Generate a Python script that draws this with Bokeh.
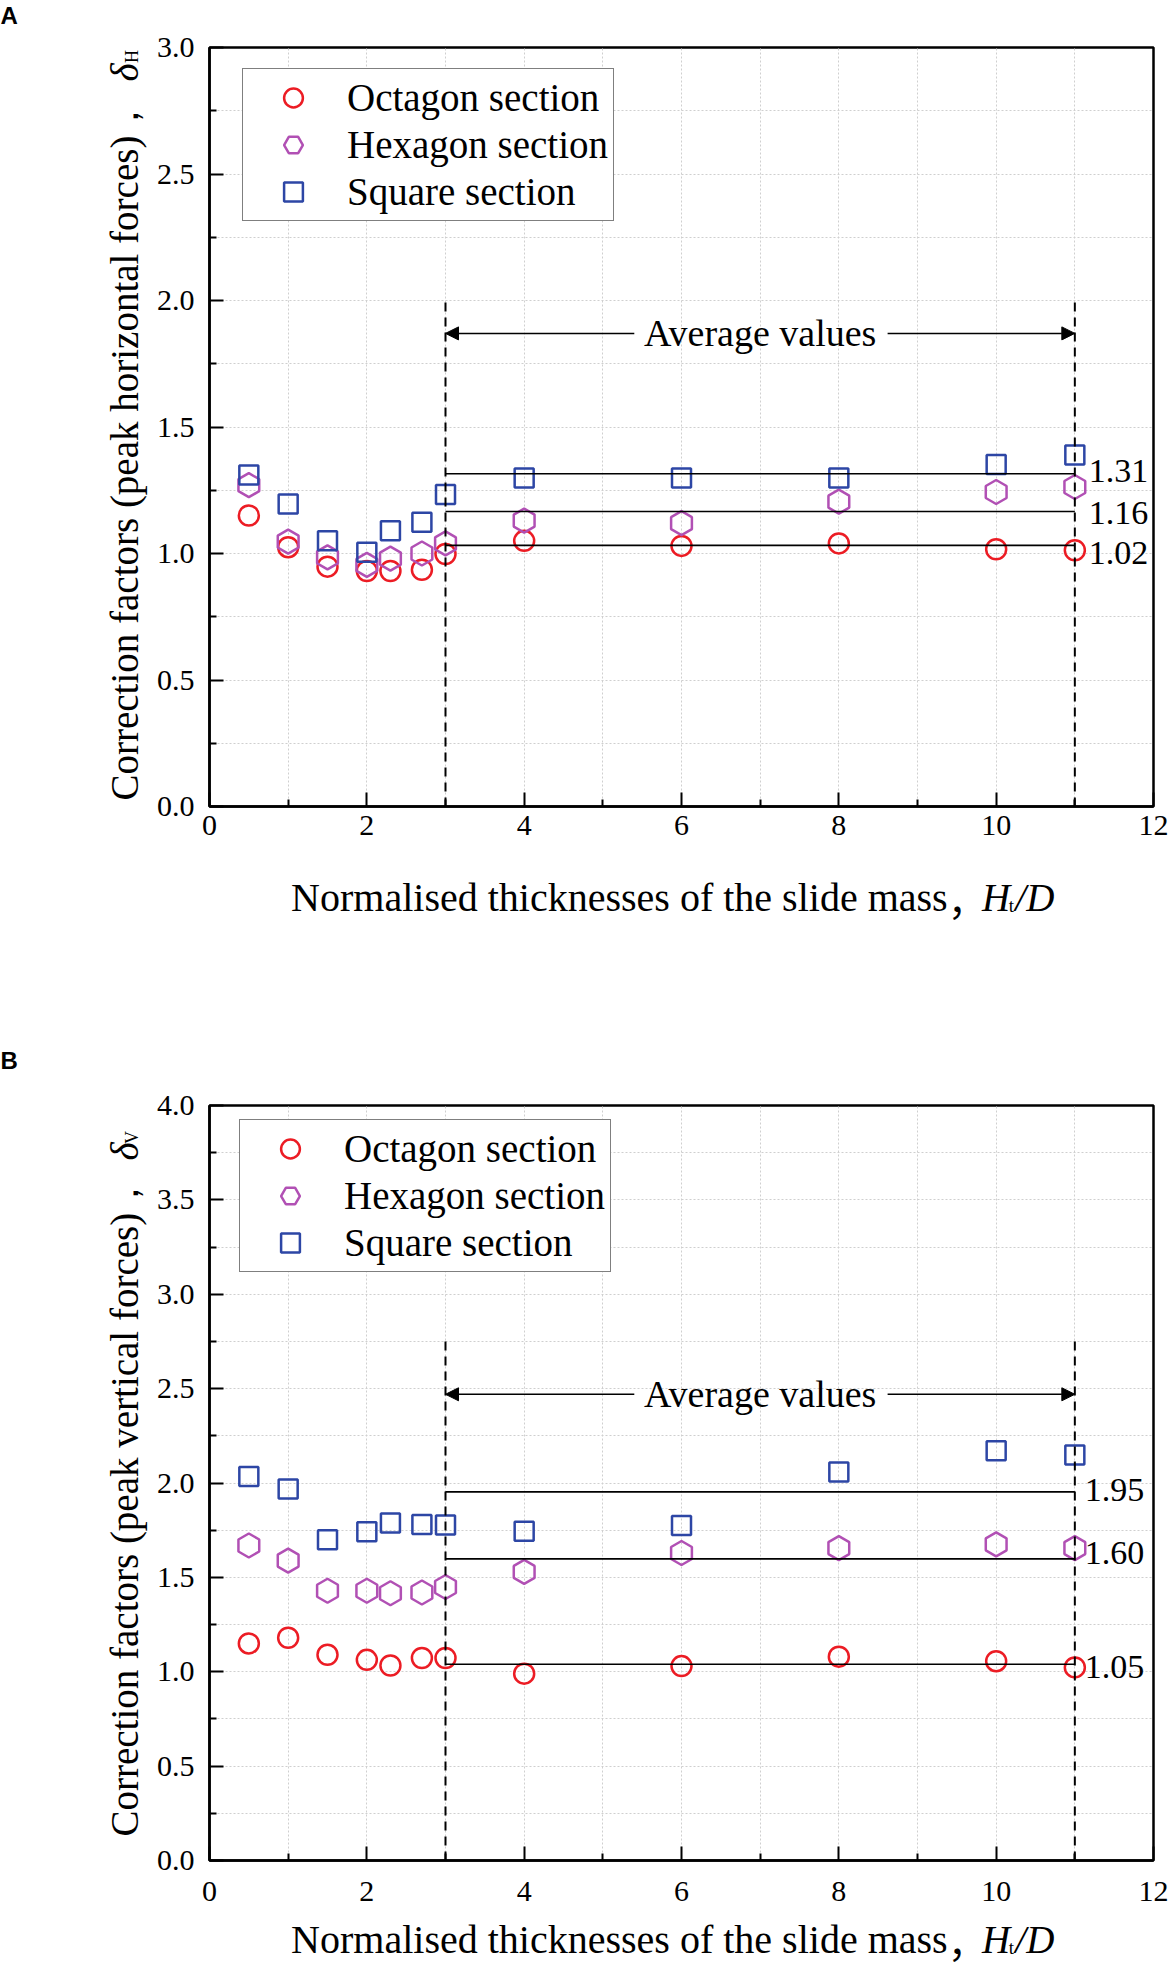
import numpy as np
from bokeh.plotting import figure
from bokeh.layouts import column, row
from bokeh.models import FixedTicker, NumeralTickFormatter, Label, Arrow, NormalHead, Range1d
from bokeh.embed import file_html
from bokeh.resources import INLINE

# ---------------- data ----------------
x_vals = [0.5, 1, 1.5, 2, 2.3, 2.7, 3, 4, 6, 8, 10, 11]

oct_h = [1.15, 1.025, 0.948, 0.931, 0.931, 0.936, 0.998, 1.05, 1.03, 1.04, 1.017, 1.013]
hex_h = [1.27, 1.047, 0.985, 0.955, 0.98, 1.0, 1.04, 1.13, 1.12, 1.205, 1.243, 1.263]
sq_h = [1.31, 1.196, 1.05, 1.005, 1.09, 1.124, 1.233, 1.298, 1.298, 1.298, 1.352, 1.389]

oct_v = [1.15, 1.18, 1.09, 1.063, 1.033, 1.073, 1.073, 0.99, 1.03, 1.08, 1.056, 1.023]
hex_v = [1.669, 1.589, 1.429, 1.429, 1.416, 1.42, 1.449, 1.529, 1.629, 1.655, 1.675, 1.655]
sq_v = [2.034, 1.968, 1.699, 1.742, 1.788, 1.78, 1.778, 1.745, 1.775, 2.058, 2.171, 2.148]

avg_lines_h = [1.315, 1.166, 1.032]
avg_labels_h = ["1.31", "1.16", "1.02"]
avg_lines_v = [1.953, 1.598, 1.04]
avg_labels_v = ["1.95", "1.60", "1.05"]
avg_start, avg_end = 3, 11

series_names = ["Octagon section", "Hexagon section", "Square section"]
colors = ["#ec1c24", "#b150b4", "#2d46a5"]

x_major = [0, 2, 4, 6, 8, 10, 12]
x_minor = [1, 3, 5, 7, 9, 11]

x_title = "Normalised thicknesses of the slide mass"
y_title_h = "Correction factors (peak horizontal forces)\uff0c"
y_title_v = "Correction factors (peak vertical forces)\uff0c"
COMMA = "\uff0c"

SERIF = "Liberation Serif"
LEFT_W = 150
MAIN_W = 1168 - LEFT_W


def text_fig(w, h):
    f = figure(width=w, height=h, output_backend="svg", toolbar_location=None, title=None,
               x_range=Range1d(0, w), y_range=Range1d(h, 0), min_border=0,
               x_axis_location=None, y_axis_location=None)
    f.outline_line_color = None
    f.grid.visible = False
    f.background_fill_color = "white"
    f.border_fill_color = "white"
    return f


def lab(f, x, y, text, size, style="normal", angle=0.0, align="left", baseline="middle",
        font=SERIF):
    f.add_layout(Label(x=x, y=y, text=text, text_font=font, text_font_size=size,
                       text_font_style=style, angle=angle, text_align=align,
                       text_baseline=baseline, text_color="black"))


def make_main(ymax, oct_y, hex_y, sq_y, avg_lines, avg_labels, label_dy, label_dx,
              dash_top, arrow_y, height, b_top, b_bottom, xstand, legend_loc):
    p = figure(width=MAIN_W, height=height, output_backend="svg", toolbar_location=None,
               title=None, x_range=Range1d(0, 12), y_range=Range1d(0, ymax),
               min_border_left=209 - LEFT_W, min_border_right=15, min_border_top=b_top,
               min_border_bottom=b_bottom)
    p.background_fill_color = "white"
    p.border_fill_color = "white"
    p.outline_line_color = "black"
    p.outline_line_width = 2.5
    p.outline_line_alpha = 1

    y_major = list(np.arange(0, ymax + 0.001, 0.5))
    y_minor = list(np.arange(0.25, ymax, 0.5))
    p.xaxis.ticker = FixedTicker(ticks=x_major, minor_ticks=x_minor)
    p.yaxis.ticker = FixedTicker(ticks=y_major, minor_ticks=y_minor)
    p.yaxis.formatter = NumeralTickFormatter(format="0.0")

    for ax in (p.xaxis[0], p.yaxis[0]):
        ax.axis_line_width = 2.5
        ax.axis_line_color = "black"
        ax.major_tick_line_width = 2
        ax.minor_tick_line_width = 2
        ax.major_tick_line_color = "black"
        ax.minor_tick_line_color = "black"
        ax.major_tick_in = 14
        ax.major_tick_out = 0
        ax.minor_tick_in = 7
        ax.minor_tick_out = 0
        ax.major_label_text_font = SERIF
        ax.major_label_text_font_size = "30px"
        ax.major_label_text_color = "black"
    p.yaxis.major_label_standoff = 15
    p.xaxis.major_label_standoff = xstand

    for g in (p.xgrid[0], p.ygrid[0]):
        g.grid_line_color = "#cfcfcf"
        g.grid_line_dash = "2 2"
        g.grid_line_width = 1
        g.minor_grid_line_color = "#cfcfcf"
        g.minor_grid_line_dash = "2 2"
        g.minor_grid_line_width = 1

    p.scatter(x_vals, oct_y, marker="circle", size=20, fill_color=None,
              line_color=colors[0], line_width=2.5, legend_label=series_names[0])
    p.scatter(x_vals, hex_y, marker="hex", size=24, angle=np.pi / 2, fill_color=None,
              line_color=colors[1], line_width=2.5, legend_label=series_names[1])
    p.scatter(x_vals, sq_y, marker="square", size=19, fill_color=None,
              line_color=colors[2], line_width=2.5, legend_label=series_names[2])

    n = len(avg_lines)
    p.segment(x0=[avg_start] * n, y0=avg_lines, x1=[avg_end] * n, y1=avg_lines,
              line_color="black", line_width=1.6)
    p.segment(x0=[avg_start, avg_end], y0=[0, 0], x1=[avg_start, avg_end],
              y1=[dash_top, dash_top], line_color="black", line_width=2, line_dash="9 6")

    for v, t, dy in zip(avg_lines, avg_labels, label_dy):
        p.add_layout(Label(x=avg_end, y=v, x_offset=label_dx, y_offset=dy, text=t,
                           text_font=SERIF, text_font_size="34px", text_color="black",
                           text_align="left", text_baseline="middle"))

    p.add_layout(Label(x=7, y=arrow_y, text="Average values", text_font=SERIF,
                       text_font_size="38px", text_align="center", text_baseline="middle",
                       text_color="black"))
    p.add_layout(Arrow(end=NormalHead(size=13, fill_color="black", line_color="black"),
                       x_start=5.4, y_start=arrow_y, x_end=avg_start, y_end=arrow_y,
                       line_color="black", line_width=1.5))
    p.add_layout(Arrow(end=NormalHead(size=13, fill_color="black", line_color="black"),
                       x_start=8.62, y_start=arrow_y, x_end=avg_end, y_end=arrow_y,
                       line_color="black", line_width=1.5))

    lg = p.legend[0]
    lg.location = legend_loc
    lg.margin = 0
    lg.padding = 5
    lg.spacing = 0
    lg.label_height = 47
    lg.glyph_height = 47
    lg.glyph_width = 90
    lg.label_standoff = 9
    lg.label_text_font = SERIF
    lg.label_text_font_size = "39px"
    lg.label_text_color = "black"
    lg.border_line_color = "black"
    lg.border_line_width = 1.5
    lg.background_fill_color = "white"
    lg.background_fill_alpha = 1
    return p


def x_title_fig(h, yc):
    f = text_fig(MAIN_W, h)
    lab(f, 946 - LEFT_W, yc, x_title, "40px", align="right")
    lab(f, 946 - LEFT_W, yc, COMMA, "39px", font="Noto Sans CJK SC")
    lab(f, 983 - LEFT_W, yc, "H", "39px", style="italic")
    lab(f, 1012 - LEFT_W, yc + 8, "t", "19px")
    lab(f, 1019 - LEFT_W, yc, "/D", "39px", style="italic")
    return f


def y_title_fig(h, letter, letter_y, main_text, main_y, delta_c, sub, sub_c):
    f = text_fig(LEFT_W, h)
    lab(f, 0, letter_y, letter, "24px", style="bold", baseline="top", font="Liberation Sans")
    lab(f, 124, main_y, main_text, "39px", angle=np.pi / 2)
    lab(f, 124, delta_c, "\u03b4", "39px", style="italic", angle=np.pi / 2, align="center")
    lab(f, 131, sub_c, sub, "18px", angle=np.pi / 2, align="center")
    return f


# ---- panel A (page rows 0..1040) ----
mainA = make_main(3.0, oct_h, hex_h, sq_h, avg_lines_h, avg_labels_h, [3, -1, -8], 14,
                  2.0, 1.87, 861, 47, 55, 9, (33, 585))
bottomA = x_title_fig(1040 - 861, 36)
leftA = y_title_fig(1040, "A", 1, y_title_h, 800, 72, "H", 56)

# ---- panel B (page rows 1040..1967) ----
mainB = make_main(4.0, oct_v, hex_v, sq_v, avg_lines_v, avg_labels_v, [2, 6, -3], 10,
                  2.75, 2.47, 875, 65, 55, 21, (30, 588))
bottomB = x_title_fig(927 - 875, 24)
leftB = y_title_fig(927, "B", 6, y_title_v, 796, 111, "V", 97)

blockA = row(leftA, column(mainA, bottomA, spacing=0), spacing=0)
blockB = row(leftB, column(mainB, bottomB, spacing=0), spacing=0)
layout = column(blockA, blockB, spacing=0)

open("out.html", "w").write(file_html(layout, INLINE))
